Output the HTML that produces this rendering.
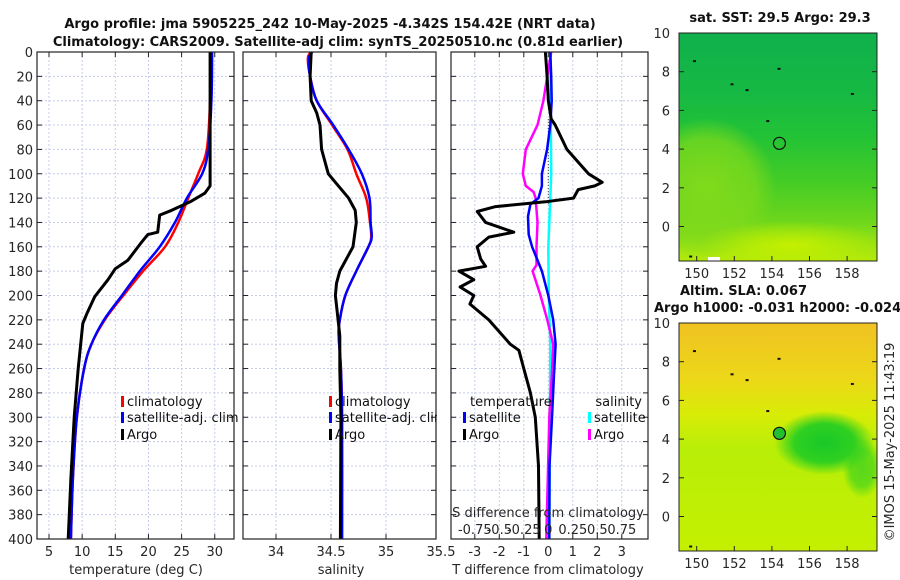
<!DOCTYPE html>
<html><head><meta charset="utf-8"><style>
html,body{margin:0;padding:0;background:#fff;}
svg{display:block;font-family:"DejaVu Sans","Liberation Sans",sans-serif;}
</style></head><body>
<svg id="c" width="900" height="580" viewBox="0 0 900 580" xmlns="http://www.w3.org/2000/svg">
<defs>
<linearGradient id="sst" x1="0" y1="0" x2="0" y2="1">
<stop offset="0" stop-color="#10b04c"/><stop offset="0.25" stop-color="#16b844"/><stop offset="0.45" stop-color="#22c236"/><stop offset="0.65" stop-color="#44cc26"/><stop offset="0.82" stop-color="#6cd61c"/><stop offset="1" stop-color="#b4ea0c"/></linearGradient>
<linearGradient id="sla" x1="0" y1="0" x2="0" y2="1">
<stop offset="0" stop-color="#f0c222"/><stop offset="0.25" stop-color="#ecd818"/><stop offset="0.4" stop-color="#d8ec06"/><stop offset="0.55" stop-color="#b8ee08"/><stop offset="1" stop-color="#c4f000"/></linearGradient>
<radialGradient id="blob" cx="0.5" cy="0.5" r="0.5"><stop offset="0" stop-color="#18c828"/><stop offset="0.6" stop-color="#30d020"/><stop offset="1" stop-color="#30d020" stop-opacity="0"/></radialGradient>
<radialGradient id="ylw" cx="0.5" cy="0.5" r="0.5"><stop offset="0" stop-color="#c4f000"/><stop offset="1" stop-color="#c4f000" stop-opacity="0"/></radialGradient>
<radialGradient id="lgt" cx="0.5" cy="0.5" r="0.5"><stop offset="0" stop-color="#80da1c"/><stop offset="0.7" stop-color="#80da1c" stop-opacity="0.7"/><stop offset="1" stop-color="#80da1c" stop-opacity="0"/></radialGradient>
<clipPath id="m1c"><rect x="679" y="33" width="198" height="228"/></clipPath>
<clipPath id="m2c"><rect x="679" y="323" width="198" height="228"/></clipPath>
</defs>
<g id="layer"></g>
</svg>
<script>
// ---- data (depth in m) ----
const depthTicks=[0,20,40,60,80,100,120,140,160,180,200,220,240,260,280,300,320,340,360,380,400];
const tTicks=[5,10,15,20,25,30];
const sTicks=[34,34.5,35,35.5];
const dTicks=[-3,-2,-1,0,1,2,3];
const sdTickLabels=["-0.75","-0.5","-0.25","0","0.25","0.5","0.75"];
const sdTicks=[-0.75,-0.5,-0.25,0,0.25,0.5,0.75];

const argoTD=[0,110,116,123,130,134,148,150,156,171,178,187,201,215,223,239,260,300,350,400];
const argoT=[29.3,29.3,28.5,26.3,23.5,21.7,21.4,19.9,19.0,16.9,15.0,13.9,11.9,10.7,10.1,9.8,9.4,8.8,8.3,7.9];
const climD=[0,40,80,100,120,140,160,180,200,220,240,260,300,350,400];
const climT=[29.4,29.3,28.8,27.5,26.0,24.5,22.5,19.2,16.2,13.4,11.4,10.3,9.2,8.6,8.3];
const satT=[29.6,29.5,29.0,28.1,25.8,24.0,21.7,18.7,16.0,13.3,11.4,10.3,9.2,8.6,8.3];

const salD=[0,5,20,40,60,80,100,120,140,152,160,180,200,220,233,260,300,400];
const climS=[34.32,34.29,34.31,34.37,34.51,34.65,34.73,34.82,34.855,34.865,34.84,34.73,34.63,34.58,34.57,34.59,34.60,34.60];
const satS=[34.33,34.30,34.31,34.37,34.52,34.66,34.78,34.85,34.86,34.87,34.84,34.73,34.63,34.58,34.57,34.59,34.60,34.60];
const argoSD=[0,20,40,50,60,80,100,110,120,130,140,160,180,190,200,220,233,260,300,400];
const argoS=[34.32,34.31,34.32,34.37,34.40,34.415,34.475,34.567,34.66,34.72,34.73,34.70,34.58,34.55,34.54,34.565,34.58,34.58,34.59,34.585];

const dTD=[0,20,40,55,60,80,100,107,110,113,120,123,127,131,140,148,152,160,170,176,180,187,193,200,207,220,240,245,260,280,300,340,400];
const argoTdiff=[-0.12,-0.05,0,0.12,0.28,0.76,1.64,2.2,1.9,1.22,1.03,-0.12,-2.15,-2.9,-2.56,-1.41,-2.43,-2.9,-2.76,-2.56,-3.65,-3.04,-3.6,-3.04,-3.2,-2.43,-1.55,-1.2,-1.0,-0.73,-0.53,-0.4,-0.37];
const sTD=[0,20,40,60,80,100,110,120,125,135,150,160,180,200,220,240,270,300,340,400];
const satTdiff=[0.08,0.12,0.14,0.08,-0.05,-0.26,-0.26,-0.4,-0.73,-0.83,-0.8,-0.66,-0.26,0,0.2,0.3,0.22,0.15,0.05,0.04];
const sdD=[0,20,40,60,80,100,110,115,120,140,160,175,180,200,220,240,260,300,400];
const argoSdiff=[0.03,-0.01,-0.05,-0.11,-0.23,-0.26,-0.23,-0.15,-0.13,-0.11,-0.12,-0.12,-0.16,-0.08,-0.01,0.05,0.04,0.01,-0.02];
const cyD=[0,100,120,160,200,240,400];
const satSdiff=[0.02,0.03,0.02,0,0.005,0.02,0.01];

const NS='http://www.w3.org/2000/svg';
const L=document.getElementById('layer');
function el(t,a,p){const e=document.createElementNS(NS,t);for(const k in a)e.setAttribute(k,a[k]);(p||L).appendChild(e);return e;}
const TOP=52,BOT=539;
const yD=d=>TOP+d*(BOT-TOP)/400;
const P1={l:37,r:234},P2={l:243,r:436},P3={l:451,r:648};
const xT=t=>49+(t-5)*6.63;
const xS=s=>276+(s-34)*110;
const xD=v=>548.3+v*24.5;
const xSD=v=>548.3+v*98;
const TXT='#262626';

function panel(P,name){
  const g=el('g',{});
  
  
  el('rect',{x:P.l,y:TOP,width:P.r-P.l,height:BOT-TOP,fill:'#fff'},g);
  return g;
}
function hgrid(P,g){
  depthTicks.forEach(d=>{const y=yD(d);
    if(d>0&&d<400)el('line',{x1:P.l,x2:P.r,y1:y,y2:y,stroke:'#c5cce8','stroke-width':1,'stroke-dasharray':'2,2'},g);
    el('line',{x1:P.l,x2:P.l+5,y1:y,y2:y,stroke:'#222'},g);
    el('line',{x1:P.r-5,x2:P.r,y1:y,y2:y,stroke:'#222'},g);
  });
}
function vgrid(P,g,xs){
  xs.forEach(x=>{ if(x>P.l&&x<P.r){
    el('line',{x1:x,x2:x,y1:TOP,y2:BOT,stroke:'#c5cce8','stroke-width':1,'stroke-dasharray':'2,2'},g);
    el('line',{x1:x,x2:x,y1:BOT-5,y2:BOT,stroke:'#222'},g);
    el('line',{x1:x,x2:x,y1:TOP,y2:TOP+5,stroke:'#222'},g);}
  });
}
function frame(P,g){el('rect',{x:P.l,y:TOP,width:P.r-P.l,height:BOT-TOP,fill:'none',stroke:'#222','stroke-width':1.2},g);}
function smoothPath(pts){
  let d='M'+pts[0][0].toFixed(1)+','+pts[0][1].toFixed(1);
  for(let i=0;i<pts.length-1;i++){
    const p0=pts[i-1]||pts[i],p1=pts[i],p2=pts[i+1],p3=pts[i+2]||p2;
    const c1=[p1[0]+(p2[0]-p0[0])/6,p1[1]+(p2[1]-p0[1])/6];
    const c2=[p2[0]-(p3[0]-p1[0])/6,p2[1]-(p3[1]-p1[1])/6];
    d+=' C'+c1[0].toFixed(1)+','+c1[1].toFixed(1)+' '+c2[0].toFixed(1)+','+c2[1].toFixed(1)+' '+p2[0].toFixed(1)+','+p2[1].toFixed(1);
  }
  return d;
}
function line(depths,vals,xf,color,w,name,g,smooth){
  const pts=depths.map((d,i)=>[xf(vals[i]),yD(d)]);
  let p;
  if(smooth) p=el('path',{d:smoothPath(pts),fill:'none',stroke:color,'stroke-width':w},g);
  else p=el('polyline',{points:pts.map(q=>q[0].toFixed(1)+','+q[1].toFixed(1)).join(' '),fill:'none',stroke:color,'stroke-width':w,'stroke-linejoin':'round'},g);
  
  
  return p;
}
function text(x,y,s,opt,g){const t=el('text',Object.assign({x:x,y:y,fill:TXT,'font-size':13,'text-anchor':'middle'},opt||{}),g);t.textContent=s;return t;}
function legendEntry(x,y,color,label,g,name){
  const gg=el('g',{},g);
  
  
  el('rect',{x:x,y:y-10,width:3,height:11,fill:color},gg);
  text(x+6,y,label,{'text-anchor':'start',fill:'#111'},gg);
}

// Titles
const t1=text(330,28,'Argo profile: jma 5905225_242 10-May-2025 -4.342S 154.42E (NRT data)',{'font-weight':'bold',fill:'#111'});

const t2=text(338,46,'Climatology: CARS2009. Satellite-adj clim: synTS_20250510.nc (0.81d earlier)',{'font-weight':'bold',fill:'#111'});


// y tick labels
depthTicks.forEach(d=>{const t=text(33,yD(d)+5,String(d),{'text-anchor':'end'});
  });

// Panel 1
let g=panel(P1,'temperature-panel');
vgrid(P1,g,tTicks.map(xT)); hgrid(P1,g);
line(climD,climT,xT,'#f00',2.5,'climatology-temperature-line',g,true);
line(climD,satT,xT,'#00f',2.5,'satellite-temperature-line',g,true);
line(argoTD,argoT,xT,'#000',3,'argo-temperature-line',g);
legendEntry(121,406,'#f00','climatology',g,'legend-climatology');
legendEntry(121,422,'#00f','satellite-adj. clim',g,'legend-satellite-adj-clim');
legendEntry(121,439,'#000','Argo',g,'legend-argo');
frame(P1,g);
tTicks.forEach(t=>text(xT(t),556,String(t),{},g));
text(136,574,'temperature (deg C)',{},g);

// Panel 2
g=panel(P2,'salinity-panel');
vgrid(P2,g,sTicks.map(xS)); hgrid(P2,g);
line(salD,climS,xS,'#f00',2.5,'climatology-salinity-line',g,true);
line(salD,satS,xS,'#00f',2.5,'satellite-salinity-line',g,true);
line(argoSD,argoS,xS,'#000',3,'argo-salinity-line',g);
legendEntry(329,406,'#f00','climatology',g,'legend-climatology-2');
legendEntry(329,422,'#00f','satellite-adj. clim',g,'legend-satellite-adj-clim-2');
legendEntry(329,439,'#000','Argo',g,'legend-argo-2');
frame(P2,g);
sTicks.forEach(s=>text(xS(s),556,String(s),{},g));
text(341,574,'salinity',{},g);
el('rect',{x:P2.r+1,y:60,width:14,height:470,fill:'#fff'});

// Panel 3
g=panel(P3,'difference-panel');
vgrid(P3,g,dTicks.map(xD)); hgrid(P3,g);
el('line',{x1:xD(0),x2:xD(0),y1:yD(55),y2:yD(125),stroke:'#444','stroke-width':1,'stroke-dasharray':'1,2'},g);
line(cyD,satSdiff,xSD,'#0ff',2.5,'satellite-salinity-diff-line',g);
line(sdD,argoSdiff,xSD,'#f0f',2.5,'argo-salinity-diff-line',g);
line(sTD,satTdiff,xD,'#00f',2.5,'satellite-temperature-diff-line',g);
line(dTD,argoTdiff,xD,'#000',3,'argo-temperature-diff-line',g);
text(470,406,'temperature',{'text-anchor':'start',fill:'#111'},g);
text(642,406,'salinity',{'text-anchor':'end',fill:'#111'},g);
legendEntry(463,422,'#00f','satellite',g,'legend-temp-satellite');
legendEntry(463,439,'#000','Argo',g,'legend-temp-argo');
legendEntry(588,422,'#0ff','satellite',g,'legend-sal-satellite');
legendEntry(588,439,'#f0f','Argo',g,'legend-sal-argo');
text(548,517,'S difference from climatology',{},g);
sdTicks.forEach((v,i)=>text(xSD(v),534,sdTickLabels[i],{},g));
frame(P3,g);
dTicks.forEach(v=>text(xD(v),556,String(v),{},g));
text(548,574,'T difference from climatology',{},g);

// ---- Maps ----
const lonTicks=[150,152,154,156,158];
const latTicks=[10,8,6,4,2,0];
const argoLon=154.4, argoLat=4.3;
function map(top,fill,name,extra){
  const mg=el('g',{});
  
  
  const xL=lo=>696.7+(lo-150)*18.8;
  const yL=la=>top+195+(0-la)*19.35-1.5;
  const cg=el('g',{'clip-path':'url(#'+(top<100?'m1c':'m2c')+')'},mg);
  el('rect',{x:679,y:top,width:198,height:228,fill:fill},cg);
  extra(cg,xL,yL);
  [[149.8,8.6],[151.8,7.4],[154.3,8.2],[153.7,5.5],[158.2,6.9],[152.6,7.1],[149.6,-1.5]].forEach(p=>el('rect',{x:xL(p[0]),y:yL(p[1]),width:3,height:2,fill:'#111'},cg));
  el('rect',{x:679,y:top,width:198,height:228,fill:'none',stroke:'#222','stroke-width':1},mg);
  lonTicks.forEach(lo=>{el('line',{x1:xL(lo),x2:xL(lo),y1:top+228,y2:top+223,stroke:'#222'},mg);
    text(xL(lo),top+245,String(lo),{},mg);});
  latTicks.forEach(la=>{el('line',{x1:679,x2:684,y1:yL(la),y2:yL(la),stroke:'#222'},mg);
    el('line',{x1:872,x2:877,y1:yL(la),y2:yL(la),stroke:'#222'},mg);
    text(670,yL(la)+5,String(la),{'text-anchor':'end'},mg);});
  const c=el('circle',{cx:xL(argoLon),cy:yL(argoLat),r:6,fill:'none',stroke:'#111','stroke-width':1.2},mg);
  
  return {xL,yL,mg};
}
const m1=map(33,'url(#sst)','sst-map',(cg,xL,yL)=>{
  el('ellipse',{cx:xL(150.5),cy:yL(2),rx:70,ry:70,fill:'url(#lgt)'},cg);
  el('ellipse',{cx:xL(155),cy:yL(-1),rx:95,ry:25,fill:'url(#ylw)'},cg);
  el('rect',{x:708,y:257,width:12,height:4,fill:'#fff'},cg);
});
text(780,22,'sat. SST: 29.5 Argo: 29.3',{'font-weight':'bold',fill:'#111'});
const m2=map(323,'url(#sla)','sla-map',(cg,xL,yL)=>{
  el('ellipse',{cx:xL(156.8),cy:yL(3.8),rx:50,ry:32,fill:'url(#blob)'},cg);
  el('ellipse',{cx:xL(158.8),cy:yL(2.5),rx:20,ry:30,fill:'url(#blob)',opacity:0.6},cg);
  el('circle',{cx:xL(argoLon),cy:yL(argoLat),r:6,fill:'#22c030'},cg);
});
text(680,295,'Altim. SLA: 0.067',{'font-weight':'bold',fill:'#111','text-anchor':'start'});
text(654,312,'Argo h1000: -0.031 h2000: -0.024',{'font-weight':'bold',fill:'#111','text-anchor':'start'});
const cr=text(0,0,'©IMOS 15-May-2025 11:43:19',{transform:'translate(894,442) rotate(-90)'});

</script>
</body></html>
